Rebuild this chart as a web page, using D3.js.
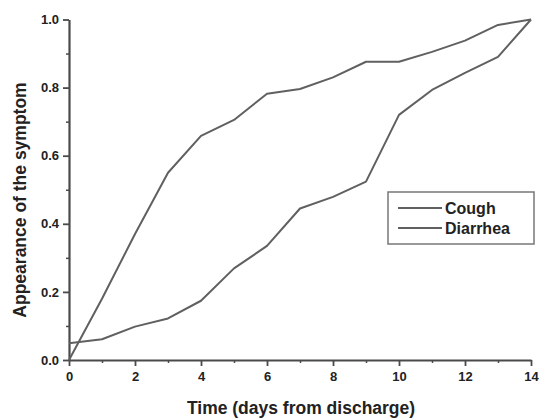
<!DOCTYPE html>
<html><head><meta charset="utf-8">
<script src="https://cdn.jsdelivr.net/npm/d3@7"></script>
<style>
html,body{margin:0;padding:0;background:#fff;}
svg text{font-family:"Liberation Sans",Arial,sans-serif;font-weight:bold;fill:#222;}
</style></head>
<body><svg id="c" width="539" height="418"></svg>
<script>
const days = [0,1,2,3,4,5,6,7,8,9,10,11,12,13,14];
const cough = [0,0.18,0.37,0.55,0.658,0.705,0.782,0.796,0.83,0.876,0.876,0.905,0.938,0.984,1.0];
const diarrhea = [0.049,0.061,0.098,0.122,0.174,0.269,0.335,0.445,0.479,0.524,0.72,0.793,0.843,0.89,1.0];
const xTicks = [0,2,4,6,8,10,12,14];
const yTicks = [0.0,0.2,0.4,0.6,0.8,1.0];
const seriesNames = ["Cough","Diarrhea"];

const svg = d3.select("#c");
const m = {l:69, r:8, t:19.5, b:58};
const W = 539, H = 418;
const x = d3.scaleLinear().domain([0,14]).range([m.l, W - m.r]);
const y = d3.scaleLinear().domain([0,1]).range([H - m.b, m.t]);
const axisColor = "#4a4a4a";
const lineColor = "#606060";

// minor ticks
const xMinor = d3.range(1,14,2);
const yMinor = [0.1,0.3,0.5,0.7,0.9];
const gxm = svg.append("g").attr("transform",`translate(0,${y(0)})`)
  .call(d3.axisBottom(x).tickValues(xMinor).tickSize(3).tickFormat(""));
const gym = svg.append("g").attr("transform",`translate(${x(0)},0)`)
  .call(d3.axisLeft(y).tickValues(yMinor).tickSize(3).tickFormat(""));
[gxm,gym].forEach(g=>{g.select(".domain").remove(); g.selectAll("line").attr("stroke",axisColor).attr("stroke-width",1.5);});

const gx = svg.append("g").attr("transform",`translate(0,${y(0)})`)
  .call(d3.axisBottom(x).tickValues(xTicks).tickSize(6).tickSizeOuter(0).tickPadding(6).tickFormat(d3.format("d")));
const gy = svg.append("g").attr("transform",`translate(${x(0)},0)`)
  .call(d3.axisLeft(y).tickValues(yTicks).tickSize(6).tickSizeOuter(0).tickPadding(4).tickFormat(d3.format(".1f")));
[gx,gy].forEach(g=>{
  g.select(".domain").attr("stroke",axisColor).attr("stroke-width",2.2);
  g.selectAll("line").attr("stroke",axisColor).attr("stroke-width",1.8);
  g.selectAll("text").style("font-size","13px").attr("fill","#222");
});

const line = d3.line().x((d,i)=>x(days[i])).y(d=>y(d));
[cough,diarrhea].forEach(s=>{
  svg.append("path").datum(s).attr("d",line).attr("fill","none")
    .attr("stroke",lineColor).attr("stroke-width",2).attr("stroke-linejoin","round");
});

// axis titles
svg.append("text").attr("x",301).attr("y",414).attr("text-anchor","middle")
  .style("font-size","17.5px").text("Time (days from discharge)");
svg.append("text").attr("transform",`translate(26,200) rotate(-90)`)
  .attr("text-anchor","middle").style("font-size","17.5px").text("Appearance of the symptom");

// legend
const lg = svg.append("g");
lg.append("rect").attr("x",388).attr("y",192).attr("width",146).attr("height",52)
  .attr("fill","#fff").attr("stroke","#777").attr("stroke-width",1.5);
seriesNames.forEach((n,i)=>{
  const yy = 208 + i*20;
  lg.append("line").attr("x1",398).attr("x2",442).attr("y1",yy).attr("y2",yy)
    .attr("stroke",lineColor).attr("stroke-width",2);
  lg.append("text").attr("x",445).attr("y",yy+6).style("font-size","16px").text(n);
});
</script></body></html>
